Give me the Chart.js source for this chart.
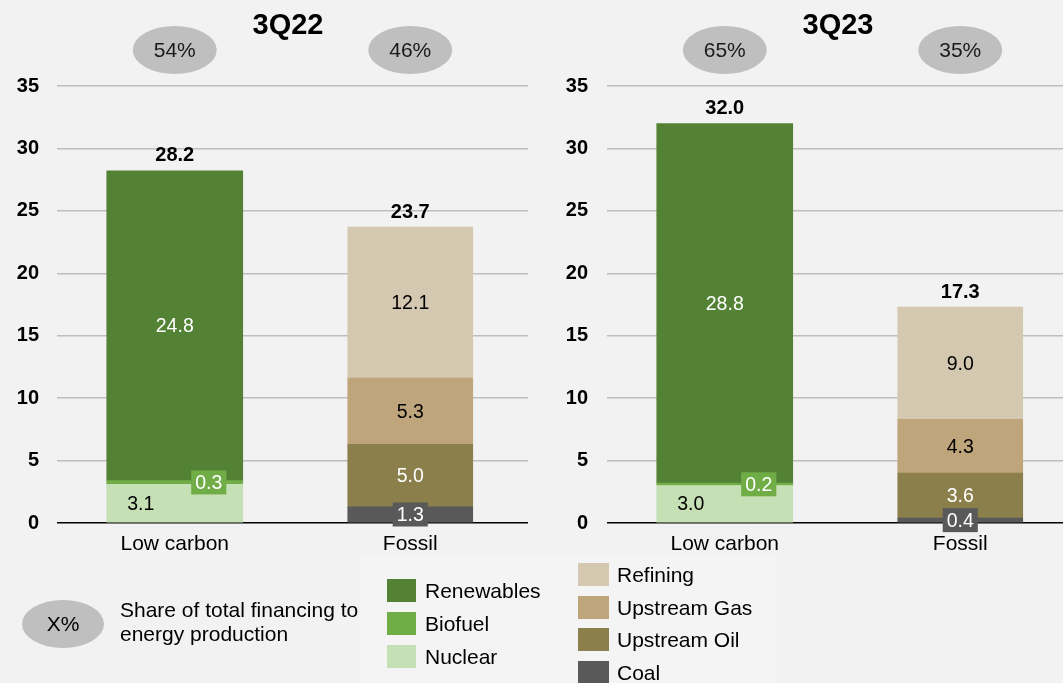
<!DOCTYPE html>
<html>
<head>
<meta charset="utf-8">
<script src="https://cdn.jsdelivr.net/npm/chart.js@4/dist/chart.umd.min.js"></script>
<style>
  html, body { margin:0; padding:0; background:#f2f2f2; width:1063px; height:683px; overflow:hidden; font-family:"Liberation Sans", Arial, sans-serif; }
  .cv { position:absolute; top:0; }
  .leg { position:absolute; font-size:21px; color:#000; }
  .sw { position:absolute; }
  .lbl { position:absolute; white-space:nowrap; line-height:24px; }
  .panel { position:absolute; background:#f4f4f4; }
</style>
</head>
<body>
<div class="panel" style="left:361px;top:556px;width:196px;height:127px;"></div>
<div class="panel" style="left:557px;top:556px;width:220px;height:127px;"></div>
<div id="c1w" class="cv" style="left:0px;width:545px;height:683px;"><canvas id="c1"></canvas></div>
<div id="c2w" class="cv" style="left:545px;width:545px;height:683px;"><canvas id="c2"></canvas></div>
<div id="legend"></div>
<script>
// ---------------- DATA ----------------
const categories = ['Low carbon', 'Fossil'];
const yTicks = [0, 5, 10, 15, 20, 25, 30, 35];

// 3Q22
const nuclear22     = [3.1, null];
const biofuel22     = [0.3, null];
const renewables22  = [24.8, null];
const coal22        = [null, 1.3];
const upstreamOil22 = [null, 5.0];
const upstreamGas22 = [null, 5.3];
const refining22    = [null, 12.1];
const totals22      = [28.2, 23.7];
const shares22      = ['54%', '46%'];

// 3Q23
const nuclear23     = [3.0, null];
const biofuel23     = [0.2, null];
const renewables23  = [28.8, null];
const coal23        = [null, 0.4];
const upstreamOil23 = [null, 3.6];
const upstreamGas23 = [null, 4.3];
const refining23    = [null, 9.0];
const totals23      = [32.0, 17.3];
const shares23      = ['65%', '35%'];

const lowCarbonSeries = ['Renewables', 'Biofuel', 'Nuclear'];
const fossilSeries = ['Refining', 'Upstream Gas', 'Upstream Oil', 'Coal'];

// ---------------- STYLES ----------------
const FONT = '"Liberation Sans", Arial, sans-serif';
const styles = {
  'Nuclear':      { color:'#c5e0b4', text:'#000000', box:null,      dx:-34, width:136 },
  'Biofuel':      { color:'#70ad47', text:'#ffffff', box:'#70ad47', dx:34,  width:136 },
  'Renewables':   { color:'#548235', text:'#ffffff', box:null,      dx:0,   width:136 },
  'Coal':         { color:'#595959', text:'#ffffff', box:'#595959', dx:0,   width:125 },
  'Upstream Oil': { color:'#8b7f4b', text:'#ffffff', box:null,      dx:0,   width:125 },
  'Upstream Gas': { color:'#bea57b', text:'#000000', box:null,      dx:0,   width:125 },
  'Refining':     { color:'#d4c8b1', text:'#000000', box:null,      dx:0,   width:125 }
};

function makeDatasets(d) {
  const order = [['Nuclear', d.nuclear], ['Biofuel', d.biofuel], ['Renewables', d.renewables],
                 ['Coal', d.coal], ['Upstream Oil', d.oil], ['Upstream Gas', d.gas], ['Refining', d.refining]];
  return order.map(([name, data]) => ({
    label: name,
    data: data,
    backgroundColor: styles[name].color,
    borderWidth: 0,
    barThickness: styles[name].width,
    stack: 's'
  }));
}

const annotPlugin = {
  id: 'annot',
  afterDatasetsDraw(chart, args, opts) {
    const ctx = chart.ctx;
    const xs = chart.scales.x, ys = chart.scales.y;
    ctx.save();
    // Title
    ctx.fillStyle = '#000';
    ctx.font = 'bold 29px ' + FONT;
    ctx.textAlign = 'center';
    ctx.textBaseline = 'middle';
    ctx.fillText(opts.title, opts.titleX, 26);
    // Share ellipses
    opts.shares.forEach((s, i) => {
      const cx = xs.getPixelForValue(i) + opts.ellipseDx[i];
      ctx.fillStyle = '#bfbfbf';
      ctx.beginPath();
      ctx.ellipse(cx, 50, 42, 24, 0, 0, Math.PI * 2);
      ctx.fill();
      ctx.fillStyle = '#1a1a1a';
      ctx.font = '21px ' + FONT;
      ctx.fillText(s, cx, 51);
    });
    // Segment labels
    chart.data.datasets.forEach((ds, di) => {
      const meta = chart.getDatasetMeta(di);
      const st = styles[ds.label];
      meta.data.forEach((el, i) => {
        const v = ds.data[i];
        if (v === null || v === undefined) return;
        const cx = el.x + st.dx;
        const cy = (el.y + el.base) / 2;
        const txt = v.toFixed(1);
        ctx.font = '19.5px ' + FONT;
        if (st.box) {
          const w = ctx.measureText(txt).width + 8;
          ctx.fillStyle = st.box;
          ctx.fillRect(cx - w / 2, cy - 12, w, 24);
        }
        ctx.fillStyle = st.text;
        ctx.textAlign = 'center';
        ctx.textBaseline = 'middle';
        ctx.fillText(txt, cx, cy + 1);
      });
    });
    // Totals
    ctx.fillStyle = '#000';
    ctx.font = 'bold 20px ' + FONT;
    opts.totals.forEach((t, i) => {
      const x = xs.getPixelForValue(i);
      const y = ys.getPixelForValue(t);
      ctx.fillText(t.toFixed(1), x, y - 15);
    });
    ctx.restore();
  }
};

function makeChart(id, data, totals, shares, yWidth, padRight, tickPad, title, titleX, ellipseDx) {
  return new Chart(document.getElementById(id), {
    type: 'bar',
    data: { labels: categories, datasets: makeDatasets(data) },
    options: {
      responsive: true,
      maintainAspectRatio: false,
      animation: false,
      layout: { padding: { top: 86, bottom: 120, left: 0, right: padRight } },
      plugins: {
        legend: { display: false },
        tooltip: { enabled: false },
        annot: { totals, shares, title, titleX, ellipseDx }
      },
      scales: {
        x: {
          stacked: true,
          offset: true,
          grid: { display: false, drawTicks: false },
          border: { display: false },
          ticks: { color: '#000', font: { family: FONT, size: 21 }, padding: 9, maxRotation: 0 },
          afterFit(s) { s.height = 40; }
        },
        y: {
          stacked: true,
          min: 0, max: 35,
          afterBuildTicks(s) { s.ticks = yTicks.map(v => ({ value: v })); },
          grid: {
            drawTicks: false,
            color: c => (c.tick && c.tick.value === 0) ? '#000000' : '#bdbdbd',
            lineWidth: 1.5
          },
          border: { display: false },
          ticks: { color: '#000', font: { family: FONT, size: 20, weight: 'bold' }, padding: tickPad },
          afterFit(s) { s.width = yWidth; }
        }
      }
    },
    plugins: [annotPlugin]
  });
}

makeChart('c1',
  { nuclear: nuclear22, biofuel: biofuel22, renewables: renewables22, coal: coal22, oil: upstreamOil22, gas: upstreamGas22, refining: refining22 },
  totals22, shares22, 57, 17, 18, '3Q22', 288, [0, 0]);
makeChart('c2',
  { nuclear: nuclear23, biofuel: biofuel23, renewables: renewables23, coal: coal23, oil: upstreamOil23, gas: upstreamGas23, refining: refining23 },
  totals23, shares23, 62, 12, 19, '3Q23', 293, [0, 0]);

// ---------------- LEGEND (HTML) ----------------
const legend = document.getElementById('legend');
function add(html) { legend.insertAdjacentHTML('beforeend', html); }
add('<svg style="position:absolute;left:22px;top:600px" width="82" height="48"><ellipse cx="41" cy="24" rx="41" ry="24" fill="#bfbfbf"/></svg>');
add('<div class="lbl leg" style="left:22px;top:612px;width:82px;text-align:center;">X%</div>');
add('<div class="leg" style="left:120px;top:598px;line-height:24px;">Share of total financing to<br>energy production</div>');
lowCarbonSeries.forEach((name, i) => {
  const top = 579 + i * 33;
  add(`<div class="sw" style="left:387px;top:${top}px;width:29px;height:23px;background:${styles[name].color}"></div>`);
  add(`<div class="lbl leg" style="left:425px;top:${top}px;">${name}</div>`);
});
fossilSeries.forEach((name, i) => {
  const top = 563 + i * 32.5;
  add(`<div class="sw" style="left:578px;top:${top}px;width:31px;height:23px;background:${styles[name].color}"></div>`);
  add(`<div class="lbl leg" style="left:617px;top:${top}px;">${name}</div>`);
});
</script>
</body>
</html>
